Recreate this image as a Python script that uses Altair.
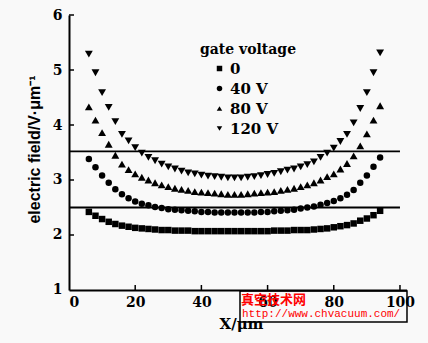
import altair as alt
import pandas as pd

# ---- data ----
x_um = [6, 8, 10, 12, 14, 16, 18, 20, 22, 24, 26, 28, 30, 32, 34, 36, 38, 40, 42, 44,
        46, 48, 50, 52, 54, 56, 58, 60, 62, 64, 66, 68, 70, 72, 74, 76, 78, 80, 82, 84,
        86, 88, 90, 92, 94]
series_names = ["0", "40 V", "80 V", "120 V"]
e_0v = [2.42, 2.35, 2.29, 2.24, 2.20, 2.17, 2.15, 2.13, 2.12, 2.11, 2.10, 2.09, 2.09, 2.08, 2.08,
        2.08, 2.07, 2.07, 2.07, 2.07, 2.07, 2.07, 2.07, 2.07, 2.07, 2.07, 2.07, 2.07, 2.08, 2.08,
        2.08, 2.09, 2.09, 2.09, 2.10, 2.11, 2.12, 2.14, 2.16, 2.18, 2.21, 2.26, 2.30, 2.36, 2.44]
e_40v = [3.38, 3.23, 3.08, 2.95, 2.83, 2.74, 2.67, 2.61, 2.57, 2.54, 2.51, 2.49, 2.47, 2.46, 2.45,
         2.44, 2.43, 2.42, 2.42, 2.41, 2.41, 2.41, 2.41, 2.41, 2.41, 2.41, 2.42, 2.42, 2.43, 2.44,
         2.45, 2.46, 2.48, 2.50, 2.52, 2.55, 2.58, 2.62, 2.67, 2.73, 2.82, 2.95, 3.08, 3.24, 3.41]
e_80v = [4.33, 4.09, 3.86, 3.65, 3.45, 3.29, 3.19, 3.11, 3.05, 3.00, 2.95, 2.91, 2.88, 2.85, 2.83,
         2.81, 2.79, 2.78, 2.77, 2.76, 2.75, 2.74, 2.74, 2.74, 2.75, 2.76, 2.77, 2.78, 2.79, 2.81,
         2.83, 2.85, 2.88, 2.91, 2.95, 3.00, 3.06, 3.11, 3.20, 3.30, 3.44, 3.62, 3.84, 4.09, 4.35]
e_120v = [5.29, 4.95, 4.59, 4.32, 4.06, 3.83, 3.71, 3.59, 3.49, 3.41, 3.35, 3.29, 3.24, 3.20, 3.16,
          3.13, 3.11, 3.09, 3.07, 3.06, 3.05, 3.04, 3.04, 3.04, 3.05, 3.06, 3.08, 3.10, 3.12, 3.15,
          3.18, 3.20, 3.24, 3.28, 3.33, 3.41, 3.49, 3.58, 3.70, 3.83, 4.04, 4.30, 4.59, 4.95, 5.31]
ref_levels = [3.52, 2.50]
x_ticks = [0, 20, 40, 60, 80, 100]
y_ticks = [1, 2, 3, 4, 5, 6]

rows = []
for name, vals in zip(series_names, [e_0v, e_40v, e_80v, e_120v]):
    for xv, yv in zip(x_um, vals):
        rows.append({"x": xv, "E": yv, "gate": name})
df = pd.DataFrame(rows)

W, H = 337.6, 275
SERIF = "DejaVu Serif"

xscale = alt.Scale(domain=[0, 102], nice=False, zero=False)
yscale = alt.Scale(domain=[1, 6], nice=False, zero=False)

shape_scale = alt.Scale(domain=series_names,
                        range=["square", "circle", "triangle-up", "triangle-down"])

x_enc = alt.X("x:Q", scale=xscale,
              axis=alt.Axis(values=x_ticks, title="X/μm", ticks=False, grid=False,
                            domainColor="black", domainWidth=2,
                            labelFont=SERIF, labelFontWeight="bold", labelFontSize=14,
                            labelColor="black", labelPadding=6,
                            titleFont=SERIF, titleFontWeight="bold", titleFontSize=15,
                            titleColor="black", titleX=172, titleY=39,
                            titleBaseline="alphabetic", titleAlign="center"))
y_enc = alt.Y("E:Q", scale=yscale,
              axis=alt.Axis(values=y_ticks, title="electric field/V·μm⁻¹", ticks=False,
                            grid=False, domainColor="black", domainWidth=2,
                            labelFont=SERIF, labelFontWeight="bold", labelFontSize=14,
                            labelColor="black", labelPadding=7,
                            titleFont="Liberation Sans", titleFontWeight="bold",
                            titleFontSize=16, titleColor="black", titleX=-29, titleY=134,
                            titleAngle=270, titleBaseline="alphabetic",
                            titleAlign="center"))
shape_enc = alt.Shape("gate:N", scale=shape_scale, sort=series_names,
                      legend=alt.Legend(title="gate voltage", orient="none",
                                        legendX=131, legendY=28))

pts_small = alt.Chart(df).transform_filter(
    alt.FieldOneOfPredicate(field="gate", oneOf=series_names[:2])
).mark_point(filled=True, color="black", opacity=1, size=42).encode(
    x=x_enc, y=y_enc, shape=shape_enc)
pts_tri = alt.Chart(df).transform_filter(
    alt.FieldOneOfPredicate(field="gate", oneOf=series_names[2:])
).mark_point(filled=True, color="black", opacity=1, size=62).encode(
    x=x_enc, y=y_enc, shape=shape_enc)

ref_df = pd.DataFrame({"E": ref_levels})
ref_lines = alt.Chart(ref_df).mark_rule(color="black", strokeWidth=1.8).encode(
    x=alt.datum(0, scale=xscale), x2=alt.datum(100), y=alt.Y("E:Q", scale=yscale)
)

xt_df = pd.DataFrame({"t": x_ticks[1:]})
x_tick_marks = alt.Chart(xt_df).mark_rule(color="black", strokeWidth=1.5).encode(
    x=alt.X("t:Q", scale=xscale), y=alt.value(H - 5), y2=alt.value(H)
)
yt_df = pd.DataFrame({"t": y_ticks[1:]})
y_tick_marks = alt.Chart(yt_df).mark_rule(color="black", strokeWidth=1.5).encode(
    y=alt.Y("t:Q", scale=yscale), x=alt.value(0), x2=alt.value(5)
)

# watermark box
one = pd.DataFrame({"k": [0]})
wm_box = alt.Chart(one).mark_rect(fillOpacity=0, stroke="black", strokeWidth=1.5).encode(
    x=alt.value(171), x2=alt.value(338), y=alt.value(276), y2=alt.value(307)
)
wm_cn = alt.Chart(one).mark_text(text="真空技术网", font="Noto Sans CJK SC", fontWeight="bold",
                                 fontSize=13, color="#ff0000", align="left",
                                 baseline="middle").encode(
    x=alt.value(172), y=alt.value(285)
)
wm_url = alt.Chart(one).mark_text(text="http://www.chvacuum.com/", font="Liberation Mono",
                                  fontSize=11, color="#ff0000", align="left",
                                  baseline="middle").encode(
    x=alt.value(173), y=alt.value(299)
)

chart = alt.layer(ref_lines, x_tick_marks, y_tick_marks, pts_small, pts_tri,
                  wm_box, wm_cn, wm_url).properties(
    width=W, height=H,
    autosize=alt.AutoSizeParams(type="none"),
    padding={"left": 69, "top": 15, "right": 21, "bottom": 53},
    background="#f9f9f9",
).configure_view(strokeWidth=0).configure_legend(
    titleFont=SERIF, titleFontWeight="bold", titleFontSize=14, titleColor="black",
    titlePadding=4,
    labelFont=SERIF, labelFontWeight="bold", labelFontSize=15, labelColor="black",
    labelOffset=3, symbolOffset=12, symbolSize=30, symbolFillColor="black",
    symbolStrokeWidth=0, rowPadding=4, padding=0,
)

chart.save("out.html", embed_options={"renderer": "svg", "actions": False})
